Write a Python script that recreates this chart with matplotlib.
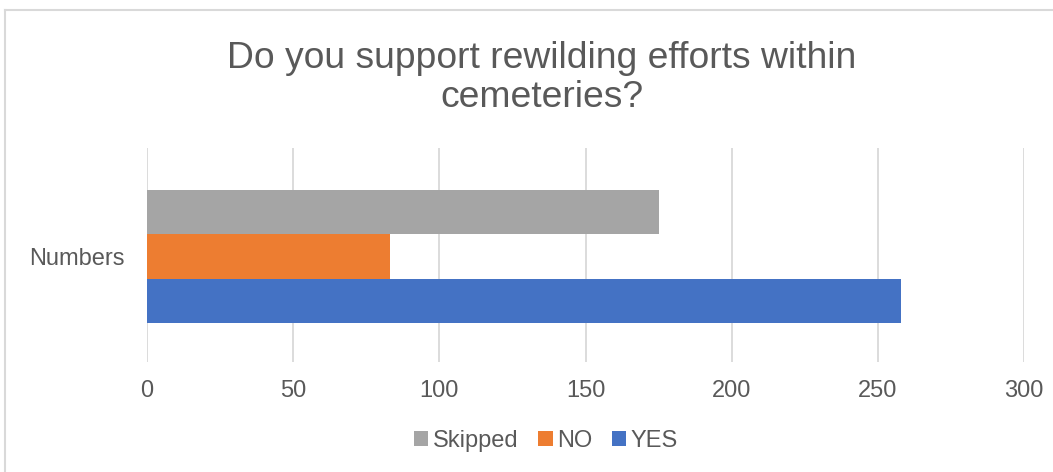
import matplotlib
matplotlib.use("Agg")
import matplotlib.pyplot as plt
from matplotlib.patches import Patch
from matplotlib.lines import Line2D

plt.rcParams['font.family'] = ['Liberation Sans', 'DejaVu Sans']

category = "Numbers"
series_names = ["Skipped", "NO", "YES"]
series_values = [175, 83, 258]
series_colors = ["#A5A5A5", "#ED7D31", "#4472C4"]
x_ticks = [0, 50, 100, 150, 200, 250, 300]
title = "Do you support rewilding efforts within\ncemeteries?"

text_color = "#595959"
grid_color = "#D9D9D9"

fig = plt.figure(figsize=(10.53, 4.72), dpi=100)
ax = fig.add_axes([147 / 1053, 1 - 362 / 472, (1024 - 147) / 1053, (362 - 148) / 472])

bar_h = 0.208
offsets = [bar_h, 0.0, -bar_h]
for name, val, col, off in zip(series_names, series_values, series_colors, offsets):
    ax.barh(off, val, height=bar_h, color=col, label=name, zorder=3)

ax.set_xlim(0, 300)
ax.set_ylim(-0.493, 0.507)
ax.set_xticks(x_ticks)
ax.set_xticklabels([str(t) for t in x_ticks])
ax.set_yticks([0])
ax.set_yticklabels([category])
ax.tick_params(axis='both', length=0, labelsize=17, colors=text_color)
ax.tick_params(axis='x', pad=13)
ax.tick_params(axis='y', pad=16)
ax.grid(axis='x', color=grid_color, linewidth=1.3, zorder=0)
for s in ax.spines.values():
    s.set_visible(False)

fig.text(542 / 1053, 1 - 78 / 472, title, ha='center', va='center',
         fontsize=26.8, color=text_color, linespacing=1.15)

handles = [Patch(facecolor=c, edgecolor='none', label=n)
           for n, c in zip(series_names, series_colors)]
fig.legend(handles=handles, loc='center', bbox_to_anchor=(546 / 1053, 1 - 441 / 472),
           ncol=3, frameon=False, fontsize=17, labelcolor=text_color,
           handlelength=0.6, handleheight=0.6, handletextpad=0.18,
           columnspacing=0.85, borderaxespad=0)

# chart area border (top and left edges)
fig.add_artist(Line2D([5 / 1053, 1.0], [1 - 10 / 472, 1 - 10 / 472],
                      transform=fig.transFigure, color=grid_color, linewidth=1.5))
fig.add_artist(Line2D([5 / 1053, 5 / 1053], [1 - 10 / 472, 0.0],
                      transform=fig.transFigure, color=grid_color, linewidth=1.5))

fig.savefig("out.png", dpi=100, facecolor="white")
